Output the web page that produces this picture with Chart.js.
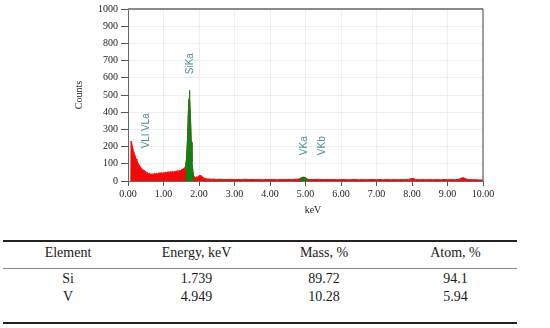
<!DOCTYPE html>
<html>
<head>
<meta charset="utf-8">
<script src="https://cdn.jsdelivr.net/npm/chart.js@4/dist/chart.umd.min.js"></script>
<style>
  html, body { margin: 0; padding: 0; background: #fff; }
  body { width: 550px; height: 328px; position: relative; overflow: hidden; }
  #chart-box { position: absolute; left: 0; top: 0; width: 550px; height: 222px; }
  table {
    position: absolute; left: 3px; top: 240px; width: 514px;
    border-collapse: collapse; table-layout: fixed;
    font-family: "Liberation Serif", "Times New Roman", serif; font-size: 14px; color: #1a1a1a;
    border-top: 2px solid #222; border-bottom: 2px solid #222;
  }
  th, td { text-align: center; padding: 0; font-weight: normal; line-height: 16px; }
  thead th { height: 21px; padding-bottom: 5px; border-bottom: 1px solid #888; }
  tr.r1 td { height: 20px; }
  tr.r2 td { height: 16px; padding-bottom: 17px; }
  .c4 { padding-left: 6px; }
</style>
</head>
<body>
<div id="chart-box"><canvas id="eds-chart"></canvas></div>

<table>
  <colgroup><col style="width:130px"><col style="width:127px"><col style="width:128px"><col style="width:129px"></colgroup>
  <thead><tr><th>Element</th><th>Energy, keV</th><th>Mass, %</th><th class="c4">Atom, %</th></tr></thead>
  <tbody id="rows"></tbody>
</table>

<script>
// spectrum (red), keV / counts
const energyKeV = [
  0.08, 0.085, 0.10, 0.12, 0.15, 0.18, 0.20, 0.23, 0.25, 0.28,
  0.30, 0.33, 0.35, 0.38, 0.40, 0.43, 0.45, 0.48, 0.50, 0.53,
  0.55, 0.58, 0.60, 0.63, 0.65, 0.68, 0.70, 0.73, 0.75, 0.78,
  0.80, 0.83, 0.85, 0.88, 0.90, 0.93, 0.95, 0.98, 1.00, 1.03,
  1.05, 1.08, 1.10, 1.13, 1.15, 1.18, 1.20, 1.23, 1.25, 1.28,
  1.30, 1.33, 1.35, 1.38, 1.40, 1.43, 1.45, 1.48, 1.50, 1.53,
  1.55, 1.58, 1.60, 1.62, 1.65, 1.68, 1.70, 1.72, 1.73, 1.74,
  1.76, 1.78, 1.80, 1.83, 1.85, 1.88, 1.90, 1.93, 1.95, 1.98,
  2.00, 2.03, 2.05, 2.08, 2.10, 2.13, 2.15, 2.20, 2.25, 2.30,
  2.35, 2.40, 2.50, 2.60, 2.70, 2.80, 2.90, 3.00, 3.10, 3.20,
  3.30, 3.40, 3.50, 3.60, 3.70, 3.80, 3.90, 4.00, 4.10, 4.20,
  4.30, 4.40, 4.50, 4.60, 4.70, 4.80, 4.85, 4.90, 4.95, 5.00,
  5.05, 5.10, 5.20, 5.30, 5.40, 5.50, 5.60, 5.70, 5.80, 5.90,
  6.00, 6.10, 6.20, 6.30, 6.40, 6.50, 6.60, 6.70, 6.80, 6.90,
  7.00, 7.10, 7.20, 7.30, 7.40, 7.50, 7.60, 7.70, 7.80, 7.90,
  7.95, 8.00, 8.05, 8.10, 8.20, 8.30, 8.40, 8.50, 8.60, 8.70,
  8.80, 8.90, 9.00, 9.10, 9.20, 9.30, 9.35, 9.40, 9.45, 9.50,
  9.55, 9.60, 9.70, 9.80, 9.90, 10.00
];
const counts = [
  0, 232, 222, 205, 178, 160, 148, 128, 120, 104,
  99, 88, 84, 72, 70, 62, 64, 55, 52, 47,
  49, 43, 45, 40, 42, 38, 43, 39, 44, 41,
  46, 40, 45, 48, 43, 47, 50, 44, 49, 46,
  52, 47, 53, 49, 55, 50, 54, 52, 57, 51,
  56, 54, 59, 55, 61, 57, 63, 60, 66, 64,
  72, 70, 80, 86, 130, 255, 400, 480, 525, 485,
  370, 225, 110, 52, 30, 24, 20, 24, 22, 27,
  30, 33, 31, 28, 24, 19, 16, 13, 11, 12,
  10, 11, 9, 10, 8, 9, 10, 8, 9, 8,
  10, 8, 9, 8, 9, 7, 9, 8, 9, 7,
  9, 8, 9, 8, 10, 11, 15, 20, 22, 19,
  12, 9, 8, 10, 9, 8, 9, 8, 9, 7,
  8, 9, 7, 8, 9, 7, 8, 7, 8, 9,
  7, 8, 7, 9, 7, 8, 7, 8, 7, 9,
  12, 15, 14, 9, 7, 8, 7, 8, 7, 8,
  7, 8, 7, 8, 7, 9, 13, 18, 19, 14,
  10, 8, 7, 7, 6, 6
];

// identified peaks (green)
const siPeakKeV = [1.62, 1.65, 1.68, 1.70, 1.72, 1.73, 1.74, 1.76, 1.78, 1.80, 1.83, 1.85];
const siPeakCounts = [86, 130, 255, 400, 480, 525, 485, 370, 225, 110, 52, 30];
const vPeakKeV = [4.85, 4.90, 4.95, 5.00, 5.05];
const vPeakCounts = [15, 20, 22, 19, 12];

// line markers
const lineLabels = ['VLl VLa', 'SiKa', 'VKa', 'VKb'];
const lineKeV = [0.51, 1.75, 4.97, 5.46];
const lineLabelBase = [190, 621, 150, 150];

// quantification table
const elements = ['Si', 'V'];
const energies = ['1.739', '4.949'];
const massPct = ['89.72', '10.28'];
const atomPct = ['94.1', '5.94'];

const rowsEl = document.getElementById('rows');
elements.forEach((el, i) => {
    rowsEl.innerHTML += `<tr class="r${i + 1}"><td>${el}</td><td>${energies[i]}</td><td>${massPct[i]}</td><td class="c4">${atomPct[i]}</td></tr>`;
});

const toPoints = (xs, ys) => xs.map((x, i) => ({ x, y: ys[i] }));

const RED = '#f00a0a';
const GREEN = '#0f8012';
const serif = '"Liberation Serif", "Times New Roman", serif';

const lineLabelPlugin = {
    id: 'lineLabels',
    afterDatasetsDraw(chart) {
        const { ctx, chartArea: a, scales: { x, y } } = chart;
        // frame top / right
        ctx.save();
        ctx.strokeStyle = '#8a8a8a';
        ctx.lineWidth = 2;
        ctx.beginPath();
        ctx.moveTo(a.left, a.top);
        ctx.lineTo(a.right, a.top);
        ctx.stroke();
        ctx.lineWidth = 1.2;
        ctx.strokeStyle = '#666';
        ctx.beginPath();
        ctx.moveTo(a.right, a.top);
        ctx.lineTo(a.right, a.bottom);
        ctx.stroke();

        ctx.fillStyle = '#4a8e8e';
        ctx.font = '10px "Liberation Sans", Arial, sans-serif';
        ctx.textAlign = 'left';
        ctx.textBaseline = 'middle';
        lineLabels.forEach((txt, i) => {
            ctx.save();
            ctx.translate(x.getPixelForValue(lineKeV[i]), y.getPixelForValue(lineLabelBase[i]));
            ctx.rotate(-Math.PI / 2);
            ctx.fillText(txt, 0, 0);
            ctx.restore();
        });
        ctx.restore();
    }
};

new Chart(document.getElementById('eds-chart'), {
    type: 'line',
    data: {
        datasets: [
            {
                label: 'Si',
                data: toPoints(siPeakKeV, siPeakCounts),
                borderColor: GREEN, backgroundColor: GREEN,
                borderWidth: 1, pointRadius: 0, fill: 'origin', order: 1
            },
            {
                label: 'V',
                data: toPoints(vPeakKeV, vPeakCounts),
                borderColor: GREEN, backgroundColor: GREEN,
                borderWidth: 1, pointRadius: 0, fill: 'origin', order: 1
            },
            {
                label: 'Spectrum',
                data: toPoints(energyKeV, counts),
                borderColor: RED, backgroundColor: RED,
                borderWidth: 1, pointRadius: 0, fill: 'origin', order: 2
            }
        ]
    },
    options: {
        responsive: true,
        maintainAspectRatio: false,
        animation: false,
        layout: { padding: { left: 0, right: 67, top: 7, bottom: 0 } },
        plugins: { legend: { display: false }, tooltip: { enabled: false } },
        scales: {
            x: {
                type: 'linear', min: 0, max: 10,
                afterFit: s => { s.height = 41; },
                ticks: {
                    stepSize: 1, padding: 2, color: '#222',
                    font: { family: serif, size: 10 },
                    callback: v => v.toFixed(2)
                },
                grid: { color: '#eeeeee', tickColor: '#555', tickLength: 5 },
                border: { color: '#666', width: 1 },
                title: {
                    display: true, text: '      keV', color: '#222',
                    font: { family: serif, size: 10 },
                    padding: { top: 0, bottom: 6 }
                }
            },
            y: {
                min: 0, max: 1000,
                afterFit: s => { s.width = 128; },
                ticks: {
                    stepSize: 100, padding: 3, color: '#222',
                    font: { family: serif, size: 10 },
                    callback: v => String(v)
                },
                grid: { color: '#eeeeee', tickColor: '#555', tickLength: 7 },
                border: { color: '#666', width: 1 },
                title: {
                    display: true, text: 'Counts', color: '#222',
                    font: { family: serif, size: 10 },
                    padding: { top: 73, bottom: 0 }
                }
            }
        }
    },
    plugins: [lineLabelPlugin]
});
</script>
</body>
</html>
